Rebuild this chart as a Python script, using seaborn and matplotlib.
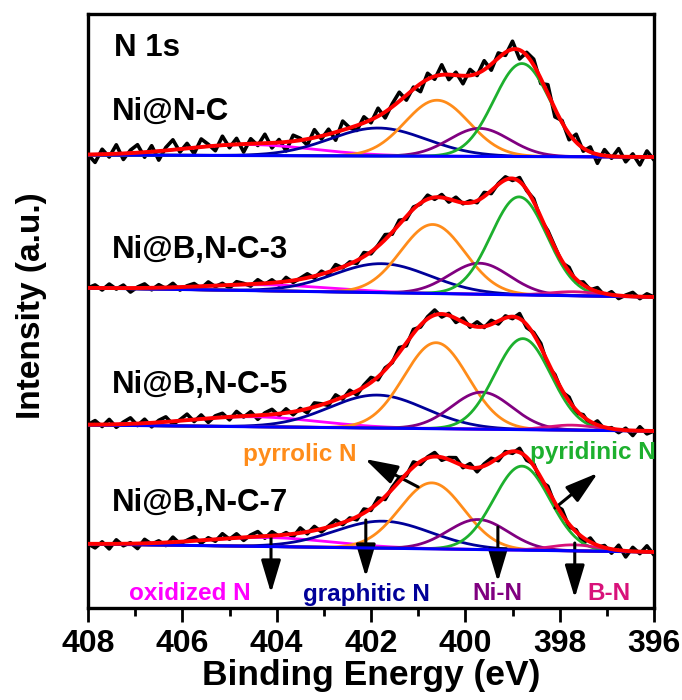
import numpy as np
import pandas as pd
import matplotlib
matplotlib.use("Agg")
import matplotlib.pyplot as plt
import seaborn as sns
from matplotlib.ticker import MultipleLocator

# ---------------- data ----------------
samples = ["Ni@N-C", "Ni@B,N-C-3", "Ni@B,N-C-5", "Ni@B,N-C-7"]
components = ["oxidized N", "graphitic N", "pyrrolic N", "Ni-N", "pyridinic N", "B-N"]
comp_colors = ["#FF00FF", "#000099", "#FF8C1A", "#800080", "#1DB02E", "#D8127A"]

# peak centres (eV) per sample, order as in `components`
centers_1 = [404.6, 401.85, 400.60, 399.70, 398.80, 397.70]
centers_2 = [404.2, 401.77, 400.69, 399.70, 398.86, 397.70]
centers_3 = [404.5, 401.87, 400.62, 399.65, 398.78, 397.75]
centers_4 = [404.2, 401.75, 400.71, 399.73, 398.80, 397.70]
# peak heights (a.u.)
heights_1 = [11, 28, 56, 28, 93, 0]
heights_2 = [6, 29, 69, 31, 98, 4]
heights_3 = [10, 33, 86, 37, 91, 5]
heights_4 = [9, 27, 66, 30, 84, 6]
# peak FWHM (eV)
fwhm = [3.2, 2.4, 1.6, 1.5, 1.4, 1.2]

# background (a.u.) at 408 eV and 396 eV, i.e. the vertical offset of each spectrum
bg_left = [453, 320, 183, 64]
bg_right = [451, 311, 177, 56]

# raw-data residuals from the fit, sampled every 0.15 eV from 408 to 396 eV
resid_1 = [0, -8, 5, -3, 9, -6, 3, 8, -5, 6,
           -9, 3, 10, -3, 5, -6, 8, 2, -5, 9,
           -3, 6, -8, 5, -2, 9, -5, 3, -9, 6,
           2, -6, 8, -3, 5, -8, 9, 0, -5, 6,
           -3, 8, -6, 3, 9, -5, 2, -8, 6, -3,
           10, -5, 3, -8, 6, -2, 9, -6, 5, -3,
           8, -9, 3, 6, -5, 9, -8, 2, -6, 8,
           -3, 5, -9, 6, -2, 8, -5, 3, -8, 6,
           -3]
resid_2 = [0, 3, -2, 4, -1, 3, -4, 1, 4, -2,
           3, -1, 4, -3, 1, 3, -2, 4, -1, 2,
           -3, 3, 1, -2, 4, -1, 3, -3, 4, -2,
           1, 4, -2, 3, -3, 5, -1, 2, -3, 4,
           -2, 1, 5, -2, 4, -3, 2, -1, 4, -2,
           3, -3, 4, -1, 2, -2, 4, -3, 1, 3,
           -2, 4, -1, 3, -3, 2, 1, -2, 4, -3,
           3, -1, 4, -2, 3, -3, 1, 4, -2, 3,
           0]
resid_3 = [0, 4, -2, 5, -3, 2, 6, -2, 4, -4,
           2, 5, -3, 1, 6, -2, 4, -4, 2, 4,
           -3, 5, -1, 4, -4, 2, 5, -2, 4, -3,
           2, -4, 4, 1, -3, 5, -2, 4, -4, 2,
           5, -3, 2, -1, 5, -3, 4, -2, 2, 5,
           -3, 2, -4, 4, -2, 5, -1, 4, -3, 2,
           -2, 5, -3, 2, 4, -4, 2, -2, 4, -3,
           2, -4, 4, -2, 1, -3, 2, -5, 4, -3,
           0]
resid_4 = [0, -4, 2, -5, 4, -2, 1, -5, 4, -1,
           2, -3, 5, -2, 1, 4, -3, 2, -2, 5,
           -1, 4, -3, 2, 5, -2, 4, -1, 2, -3,
           5, -2, 4, -3, 1, 5, -2, 2, -3, 4,
           -2, 5, -3, 2, 4, -2, 5, -3, 1, 4,
           -3, 2, 5, -2, 4, -4, 2, 4, -3, 2,
           -2, 4, -3, 2, -4, 4, -2, 5, -3, 2,
           -5, 4, -2, 2, -4, 5, -6, 4, -2, 6,
           -3]

x_ticks = [408, 406, 404, 402, 400, 398, 396]

# annotation labels: (text, colour, x eV, y a.u.)
label_text = ["pyrrolic N", "pyridinic N", "oxidized N", "graphitic N", "Ni-N", "B-N"]
label_color = ["#FF8C1A", "#1DB02E", "#FF00FF", "#000099", "#800080", "#D8127A"]
label_x = [403.51, 397.29, 405.84, 402.09, 399.33, 396.95]
label_y = [153, 155, 14, 14, 14, 14]
# arrows: tail (x, y) -> head (x, y)
arrow_tail_x = [401.00, 398.10, 404.12, 402.11, 399.31, 397.68]
arrow_tail_y = [121, 100, 71, 88, 81, 65]
arrow_head_x = [402.13, 397.19, 404.12, 402.11, 399.31, 397.68]
arrow_head_y = [149, 135, 15, 31, 26, 10]

sample_label_x = 407.5
sample_label_y = [496, 358, 223, 105]

# ---------------- plotting ----------------
sns.set_style("ticks")
plt.rcParams["font.family"] = ["Liberation Sans", "DejaVu Sans"]
plt.rcParams["font.weight"] = "bold"
plt.rcParams["text.color"] = "black"
plt.rcParams["axes.labelcolor"] = "black"
plt.rcParams["xtick.color"] = "black"
plt.rcParams["xtick.labelcolor"] = "black"

fig = plt.figure(figsize=(6.82, 7.0), dpi=100)
ax = fig.add_axes([88 / 682, 1 - 608 / 700, 566 / 682, 594 / 700])

e_raw = np.round(np.arange(408.0, 395.999, -0.15), 3)
e_fit = np.round(np.arange(408.0, 395.999, -0.02), 3)

all_centers = [centers_1, centers_2, centers_3, centers_4]
all_heights = [heights_1, heights_2, heights_3, heights_4]
all_resid = [resid_1, resid_2, resid_3, resid_4]


def gauss(e, c, h, w):
    s = w / 2.3548
    return h * np.exp(-(e - c) ** 2 / (2 * s * s))


def background(e, i):
    return bg_right[i] + (bg_left[i] - bg_right[i]) * (e - 396.0) / 12.0


for i in range(4):
    bg_f = background(e_fit, i)
    total_f = bg_f.copy()
    comps = []
    for c, h, w in zip(all_centers[i], all_heights[i], fwhm):
        g = gauss(e_fit, c, h, w)
        total_f += g
        comps.append(g)
    total_r = background(e_raw, i) + sum(
        gauss(e_raw, c, h, w) for c, h, w in zip(all_centers[i], all_heights[i], fwhm)
    )
    raw = total_r + np.array(all_resid[i], dtype=float)
    df_raw = pd.DataFrame({"E": e_raw, "I": raw})
    sns.lineplot(data=df_raw, x="E", y="I", ax=ax, color="black", lw=2.6,
                 sort=False, estimator=None, zorder=2)
    for g, col, h in zip(comps, comp_colors, all_heights[i]):
        if h <= 0:
            continue
        sns.lineplot(x=e_fit, y=bg_f + g, ax=ax, color=col, lw=2.0,
                     sort=False, estimator=None, zorder=3)
    sns.lineplot(x=e_fit, y=bg_f, ax=ax, color="#0000FF", lw=2.2,
                 sort=False, estimator=None, zorder=4)
    sns.lineplot(x=e_fit, y=total_f, ax=ax, color="#FF0000", lw=2.8,
                 sort=False, estimator=None, zorder=5)
    ax.text(sample_label_x, sample_label_y[i], samples[i], fontsize=22.5,
            fontweight="bold", ha="left", va="center", color="black", zorder=6)

ax.text(407.45, 560, "N 1s", fontsize=22.5, fontweight="bold", ha="left",
        va="center", color="black")

for t, c, x, y in zip(label_text, label_color, label_x, label_y):
    ax.text(x, y, t, color=c, fontsize=17.5, fontweight="bold", ha="center", va="center")

for tx, ty, hx, hy in zip(arrow_tail_x, arrow_tail_y, arrow_head_x, arrow_head_y):
    ax.annotate("", xy=(hx, hy), xytext=(tx, ty),
                arrowprops=dict(arrowstyle="-|>,head_length=1.0,head_width=0.3",
                                color="black", lw=2.2, shrinkA=0, shrinkB=0,
                                mutation_scale=20))

ax.set_xlim(408, 396)
ax.set_ylim(0, 594)
ax.set_xticks(x_ticks)
ax.set_xticklabels([str(t) for t in x_ticks])
ax.xaxis.set_minor_locator(MultipleLocator(1))
ax.set_yticks([])
ax.tick_params(axis="x", which="major", direction="out", length=10, width=2,
               labelsize=23, pad=5, colors="black")
ax.tick_params(axis="x", which="minor", direction="out", length=6, width=2,
               colors="black")
for lab in ax.get_xticklabels():
    lab.set_fontweight("bold")
for sp in ax.spines.values():
    sp.set_linewidth(2.4)
    sp.set_visible(True)
    sp.set_color("black")

ax.set_xlabel("Binding Energy (eV)", fontsize=25.5, fontweight="bold", labelpad=0,
              color="black")
ax.set_ylabel("")
fig.text(32 / 682, 1 - 306 / 700, "Intensity (a.u.)", rotation=90, fontsize=24,
         fontweight="bold", ha="center", va="center", color="black")

fig.savefig("out.png", dpi=100)
